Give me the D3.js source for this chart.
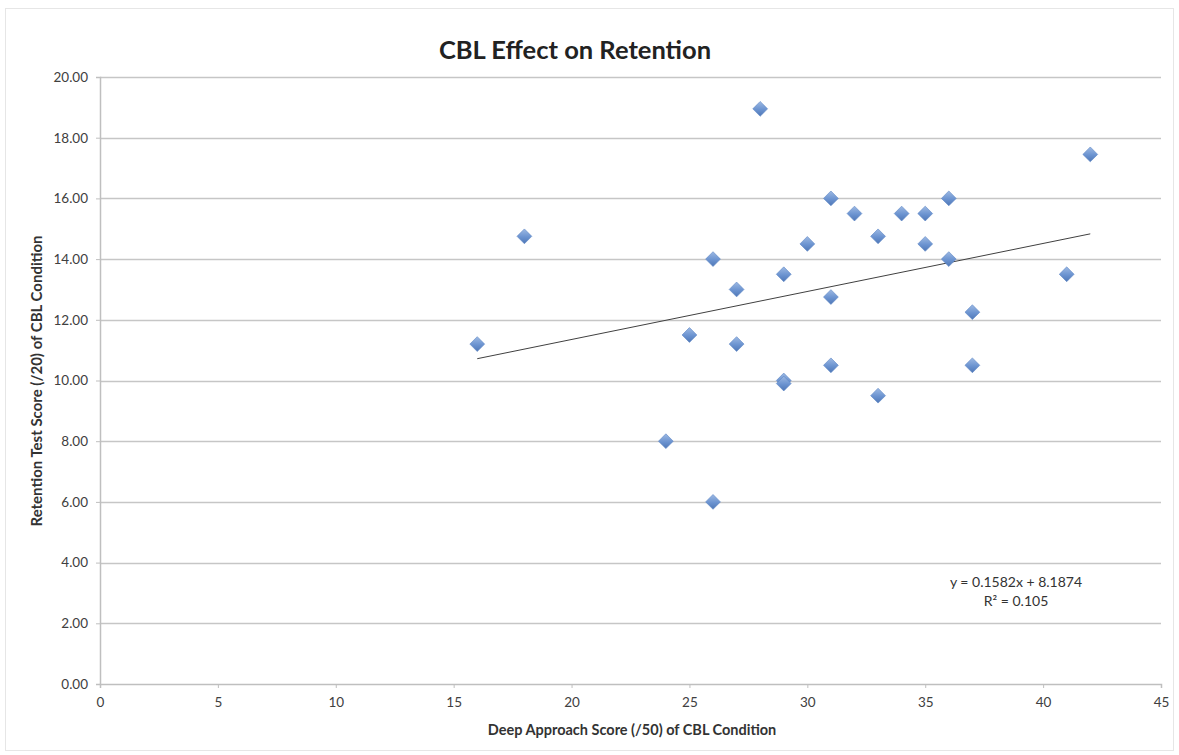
<!DOCTYPE html>
<html>
<head>
<meta charset="utf-8">
<script src="https://cdn.jsdelivr.net/npm/d3@7"></script>
<style>
  body { margin: 0; background: #fff; }
  svg { display: block; }
</style>
</head>
<body>
<svg id="chart" width="1179" height="755"></svg>
<script>
// data
var deepScores =      [16,   18,    24,  25,   26,  26,  27,   27,   28,   29,   29,  29,  30,   31,  31,    31,   32,   33,    33,  34,   35,   35,   36,  36,  37,    37,   41,   42];
var retentionScores = [11.2, 14.75, 8.0, 11.5, 6.0, 14.0, 11.2, 13.0, 18.95, 13.5, 10.0, 9.9, 14.5, 16.0, 12.75, 10.5, 15.5, 14.75, 9.5, 15.5, 15.5, 14.5, 16.0, 14.0, 12.25, 10.5, 13.5, 17.45];
var xTicks = [0, 5, 10, 15, 20, 25, 30, 35, 40, 45];
var yTicks = [0, 2, 4, 6, 8, 10, 12, 14, 16, 18, 20];
var trendSlope = 0.1582;
var trendIntercept = 8.1874;
var trendText = "y = 0.1582x + 8.1874";
var r2Text = "R² = 0.105";

var svg = d3.select('#chart');
var plotLeft = 100, plotRight = 1161, plotTop = 77, plotBottom = 684;
var font = 'Lato, "Open Sans", sans-serif';

var points = deepScores.map(function(d, i) {
  return {x: d, y: retentionScores[i]};
});

var x = d3.scaleLinear().domain([0, 45]).range([plotLeft, plotRight]);
var y = d3.scaleLinear().domain([0, 20]).range([plotBottom, plotTop]);

// outer chart border
svg.append('rect')
  .attr('x', 5.5).attr('y', 8.5)
  .attr('width', 1168).attr('height', 742)
  .attr('fill', 'none')
  .attr('stroke', '#e6e6e6');

// gradient for the diamonds
var grad = svg.append('defs').append('linearGradient')
  .attr('id', 'mk').attr('x1', 0).attr('y1', 0).attr('x2', 0).attr('y2', 1);
grad.append('stop').attr('offset', '0%').attr('stop-color', '#9db9e3');
grad.append('stop').attr('offset', '55%').attr('stop-color', '#6b93d0');
grad.append('stop').attr('offset', '100%').attr('stop-color', '#4f77b6');

// gridlines
svg.append('g')
  .selectAll('line')
  .data(yTicks.slice(1))
  .enter()
  .append('line')
  .attr('x1', plotLeft).attr('x2', plotRight)
  .attr('y1', function(d) { return Math.round(y(d)) + 0.5; })
  .attr('y2', function(d) { return Math.round(y(d)) + 0.5; })
  .attr('stroke', '#c6c6c6')
  .attr('stroke-width', 1.5);

// y axis
var yAxis = svg.append('g')
  .attr('transform', 'translate(' + plotLeft + ',0)')
  .call(d3.axisLeft(y).tickValues(yTicks).tickFormat(d3.format('.2f')).tickSize(4).tickPadding(8));
yAxis.select('.domain').attr('stroke', '#bfbfbf').attr('stroke-width', 1.5);
yAxis.selectAll('.tick line').attr('stroke', '#bfbfbf');
yAxis.selectAll('text')
  .attr('font-family', font)
  .attr('font-size', 13.5)
  .attr('fill', '#404040');

// x axis
var xAxis = svg.append('g')
  .attr('transform', 'translate(0,' + plotBottom + ')')
  .call(d3.axisBottom(x).tickValues(xTicks).tickSize(4).tickPadding(9));
xAxis.select('.domain').attr('stroke', '#bfbfbf').attr('stroke-width', 1.5);
xAxis.selectAll('.tick line').attr('stroke', '#bfbfbf');
xAxis.selectAll('text')
  .attr('font-family', font)
  .attr('font-size', 13.5)
  .attr('fill', '#404040');

// trendline
var xMin = d3.min(deepScores), xMax = d3.max(deepScores);
svg.append('line')
  .attr('x1', x(xMin)).attr('y1', y(trendSlope * xMin + trendIntercept))
  .attr('x2', x(xMax)).attr('y2', y(trendSlope * xMax + trendIntercept))
  .attr('stroke', '#404040')
  .attr('stroke-width', 1);

// diamond markers
svg.append('g')
  .selectAll('path')
  .data(points)
  .enter()
  .append('path')
  .attr('d', d3.symbol().type(d3.symbolDiamond2).size(140))
  .attr('transform', function(d) { return 'translate(' + x(d.x) + ',' + y(d.y) + ')'; })
  .attr('fill', 'url(#mk)')
  .attr('stroke', '#5b84c4')
  .attr('stroke-width', 0.6);

// equation label
var eq = svg.append('text')
  .attr('x', 1016).attr('y', 587)
  .attr('text-anchor', 'middle')
  .attr('font-family', font)
  .attr('font-size', 14)
  .attr('fill', '#333');
eq.append('tspan').attr('x', 1016).text(trendText);
eq.append('tspan').attr('x', 1016).attr('dy', 19).text(r2Text);

// title
svg.append('text')
  .attr('x', 575).attr('y', 59)
  .attr('text-anchor', 'middle')
  .attr('font-family', font)
  .attr('font-weight', 'bold')
  .attr('font-size', 25.5)
  .attr('fill', '#222')
  .text('CBL Effect on Retention');

// axis titles
svg.append('text')
  .attr('x', 632).attr('y', 735)
  .attr('text-anchor', 'middle')
  .attr('font-family', font)
  .attr('font-weight', 'bold')
  .attr('font-size', 14.5)
  .attr('fill', '#333')
  .text('Deep Approach Score (/50) of CBL Condition');

svg.append('text')
  .attr('transform', 'translate(42,381) rotate(-90)')
  .attr('text-anchor', 'middle')
  .attr('font-family', font)
  .attr('font-weight', 'bold')
  .attr('font-size', 15)
  .attr('fill', '#333')
  .text('Retention Test Score (/20) of CBL Condition');
</script>
</body>
</html>
